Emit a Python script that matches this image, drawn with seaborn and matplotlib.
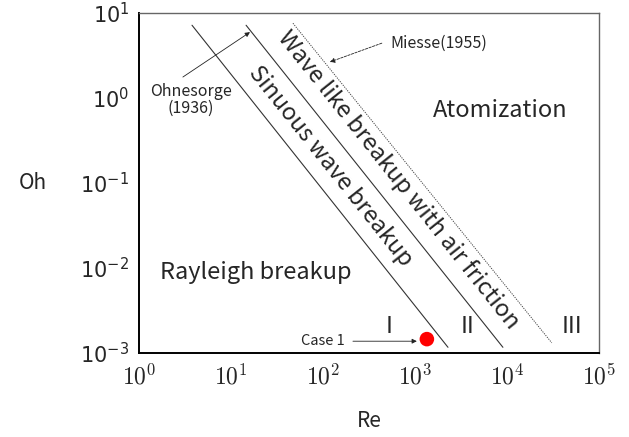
import numpy as np
import pandas as pd
import matplotlib
matplotlib.use("Agg")
import matplotlib.pyplot as plt
import seaborn as sns

# =====================
# Data
# =====================
# boundary lines (end points, Re / Oh)
ohnesorge_re = [3.77, 2290]
ohnesorge_oh = [7.2, 1.17e-3]
sinuous_re = [14.6, 9060]
sinuous_oh = [7.2, 1.17e-3]
miesse_re = [47.2, 30800]
miesse_oh = [7.6, 1.32e-3]

# operating point
case_re = [1350]
case_oh = [1.46e-3]

x_ticks = [1e0, 1e1, 1e2, 1e3, 1e4, 1e5]
y_ticks = [1e-3, 1e-2, 1e-1, 1e0, 1e1]

regime_labels = ['I', 'II', 'III']
regime_re = [520, 3700, 51000]

sns.set_theme(style="white")
plt.rcParams['font.family'] = ['Noto Sans CJK KR', 'DejaVu Sans']

fig = plt.figure(figsize=(6.29, 4.37), dpi=100)
ax = fig.add_axes([0.221, 0.192, 0.731, 0.778])

df_lines = pd.concat([
    pd.DataFrame({'Re': ohnesorge_re, 'Oh': ohnesorge_oh, 'line': 'Ohnesorge'}),
    pd.DataFrame({'Re': sinuous_re, 'Oh': sinuous_oh, 'line': 'Wave'}),
])
sns.lineplot(data=df_lines, x='Re', y='Oh', units='line', estimator=None,
             color='#333333', lw=0.8, ax=ax)
sns.lineplot(x=miesse_re, y=miesse_oh, color='#444444', lw=0.7,
             linestyle=(0, (1.2, 1.2)), ax=ax)
sns.scatterplot(x=case_re, y=case_oh, color='red', s=110, edgecolor='none', ax=ax, zorder=5)

ax.set_xscale('log')
ax.set_yscale('log')
ax.set_xlim(1e0, 1e5)
ax.set_ylim(1e-3, 1e1)
ax.set_xticks(x_ticks)
ax.set_yticks(y_ticks)
ax.minorticks_off()
ax.set_xticklabels([f'$10^{{{int(np.log10(v))}}}$' for v in x_ticks],
                   fontsize=17, math_fontfamily='cm')
ax.set_yticklabels([f'$10^{{{int(np.log10(v))}}}$' for v in y_ticks],
                   fontsize=15, math_fontfamily='dejavusans')
ax.tick_params(axis='x', length=0, pad=8)
ax.tick_params(axis='y', length=0, pad=7)

ax.set_xlabel('Re', fontsize=15, labelpad=15)
ax.set_ylabel('Oh', fontsize=15, rotation=0, labelpad=34, va='center')

for side in ['left', 'bottom']:
    ax.spines[side].set_color('black')
    ax.spines[side].set_linewidth(1.4)
for side in ['top', 'right']:
    ax.spines[side].set_color('#666666')
    ax.spines[side].set_linewidth(1.0)

# region labels
ax.text(660, 0.11, 'Wave like breakup with air friction', rotation=-51.5,
        rotation_mode='anchor', ha='center', va='center', fontsize=17)
ax.text(120, 0.158, 'Sinuous wave breakup', rotation=-51.5,
        rotation_mode='anchor', ha='center', va='center', fontsize=17)
ax.text(18.7, 8.9e-3, 'Rayleigh breakup', ha='center', va='center', fontsize=17)
ax.text(8400, 0.72, 'Atomization', ha='center', va='center', fontsize=17)
for lab, xv in zip(regime_labels, regime_re):
    ax.text(xv, 2.04e-3, lab, ha='center', va='center', fontsize=17)

# annotations
arrow = dict(arrowstyle='-|>', color='#222222', lw=0.6, mutation_scale=7,
             shrinkA=0, shrinkB=0)
ax.text(3.67, 0.95, 'Ohnesorge\n(1936)', ha='center', va='center',
        fontsize=11.5, linespacing=1.05)
ax.annotate('', xy=(16.1, 5.97), xytext=(3.0, 1.77), arrowprops=arrow)
ax.text(535, 4.43, 'Miesse(1955)', ha='left', va='center', fontsize=11.5)
ax.annotate('', xy=(119, 2.66), xytext=(437, 4.43),
            arrowprops=dict(arrow, linestyle=(0, (3, 1.5))))
ax.text(100, 1.38e-3, 'Case 1', ha='center', va='center', fontsize=10.5)
ax.annotate('', xy=(1050, 1.38e-3), xytext=(212, 1.38e-3), arrowprops=arrow)

plt.savefig('out.png', dpi=100)
